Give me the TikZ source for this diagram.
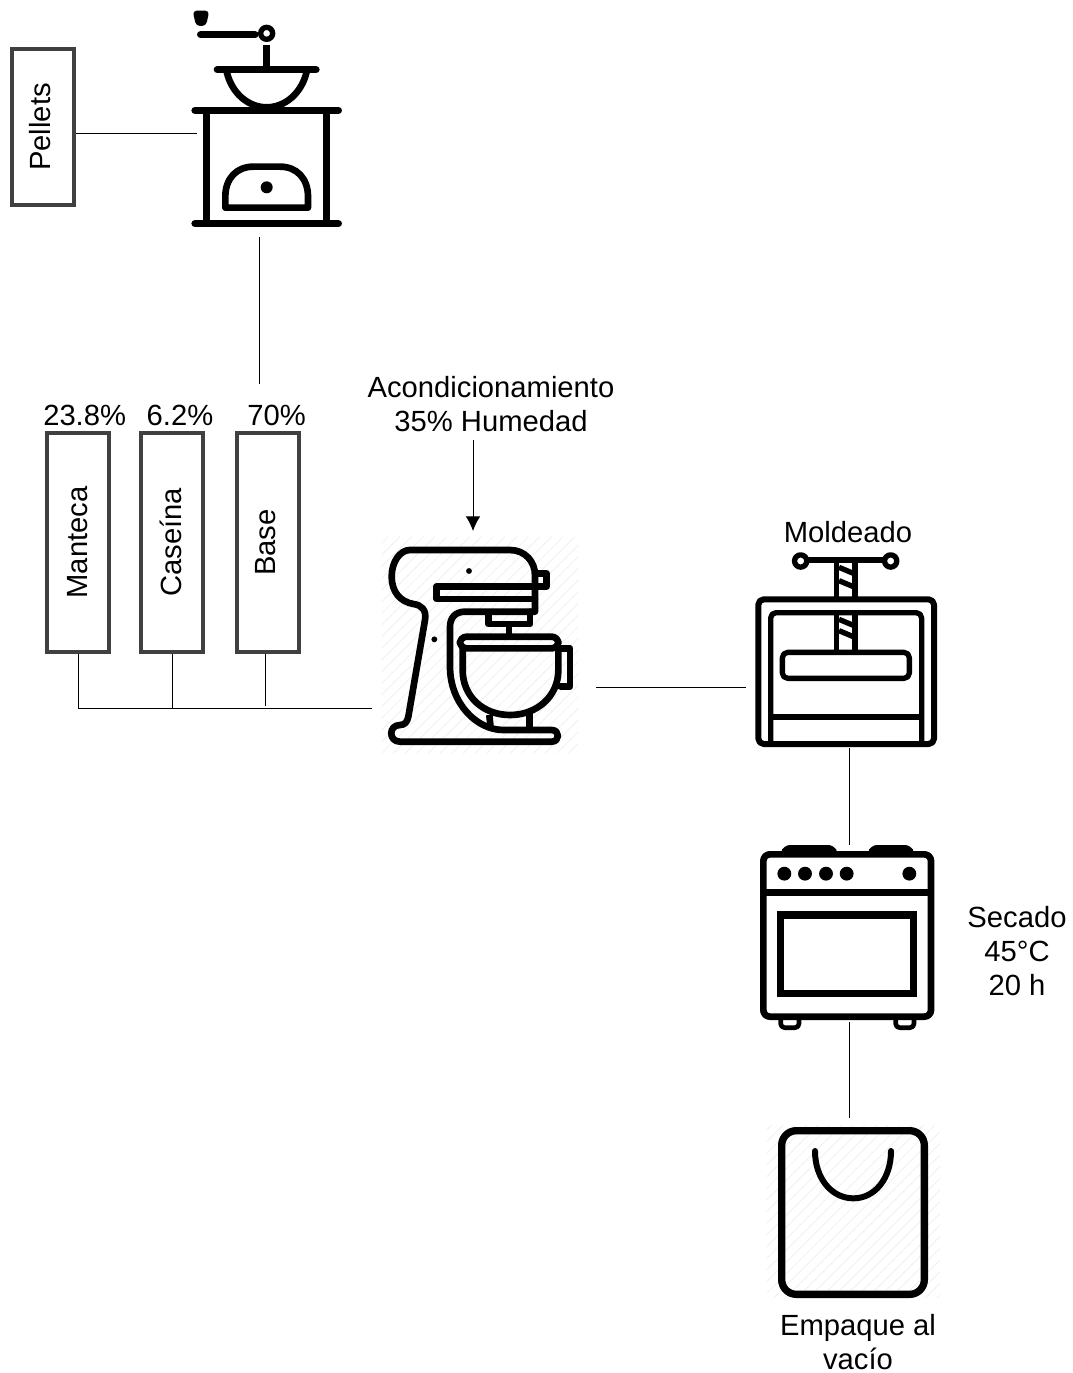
\documentclass[tikz,border=0pt]{standalone}
\usepackage{fontspec}
\setmainfont{Liberation Sans}
\usepackage{tikz}
\usetikzlibrary{arrows.meta}

\begin{document}
\begin{tikzpicture}[x=0.75pt, y=-0.75pt, >={Latex[length=11pt,width=11pt]}, line width=0.75pt,
        font=\fontsize{21.9}{25.5}\selectfont]
        % Estilos
        \tikzstyle{bloque} = [draw=black!75, rectangle, line width=3pt, minimum width=46.5pt]
        \tikzstyle{hueco} = [rectangle, inner sep=0pt, outer sep=0pt]
        \tikzstyle{etiqueta} = [align=center, inner sep=0pt]
        \tikzstyle{icono} = [x=0.25pt, y=-0.25pt, line join=round, line cap=round]
        \tikzstyle{rayado} = [black!7, line width=0.5pt, line cap=butt]

        \useasboundingbox (0,0) rectangle (1073,1373);

        % Nodos
        \node [hueco, minimum width=93pt, minimum height=154.5pt] (molino) at (259,134) {};
        \node [bloque, minimum height=117pt] (pellets) at (43,127) {\hspace{-4pt}\rotatebox{90}{Pellets}};

        \node [bloque, minimum height=164pt] (manteca) at (78,542.5) {\rotatebox{90}{Manteca}};
        \node [bloque, minimum height=164pt, right of=manteca, node distance=70.5pt] (caseina) {\hspace{-2pt}\rotatebox{90}{Caseína}};
        \node [bloque, minimum height=164pt, right of=caseina, node distance=72pt] (base) {\hspace{-3pt}\rotatebox{90}{Base}};
        \node [etiqueta, above of=manteca, node distance=95pt, xshift=5pt] (pctmanteca) {23.8\%};
        \node [etiqueta, above of=caseina, node distance=95pt, xshift=6pt] (pctcaseina) {6.2\%};
        \node [etiqueta, above of=base, node distance=95pt, xshift=6.5pt] (pctbase) {70\%};
        \coordinate (entrada) at (259,384);

        \node [hueco, minimum width=168pt, minimum height=31.5pt] (batidora) at (484,687) {};
        \node [etiqueta] (acond) at (491,404) {Acondicionamiento\\35\% Humedad};
        \coordinate (flecha) at (473,531);

        \node [hueco, right of=batidora, node distance=273.75pt, minimum width=154.5pt, minimum height=91.5pt] (prensa) {};
        \node [hueco, below of=prensa, node distance=184.9pt, minimum width=135pt, minimum height=132.75pt] (horno) {};
        \node [hueco, below of=horno, node distance=209.6pt, minimum width=135pt, minimum height=142.5pt] (bolsa) {};
        \node [etiqueta, above of=prensa, node distance=116pt, xshift=-0.75pt] (moldeado) {Moldeado};
        \node [etiqueta, right of=horno, node distance=126pt, yshift=-13pt] (secado) {Secado\\45°C\\20 h};
        \node [etiqueta, below of=bolsa, node distance=96.5pt, xshift=6.75pt] (empaque) {Empaque al\\vacío};

        % Molino
        \begin{scope}[shift={(0,0)}, icono, line width=5.5pt]
            \fill [rounded corners=3pt] (578,32) -- (628,32) -- (618,78) -- (588,78) -- cycle;
            \draw (602,104) -- (765,104);
            \draw [line width=4pt] (800,100) circle [radius=4.5pt];
            \draw [line cap=butt] (800,135) -- (800,205);
            \draw (652,209) -- (948,209);
            \draw [line width=5pt, line cap=butt] (680,215) .. controls (695,280) and (745,322) .. (800,322)
                .. controls (855,322) and (905,280) .. (920,215);
            \draw (585,331) -- (1015,331);
            \draw (585,671) -- (1015,671);
            \draw [line cap=butt] (620,331) -- (620,671);
            \draw [line cap=butt] (980,331) -- (980,671);
            \draw [line width=5pt] (676,623) -- (676,590) .. controls (676,535) and (710,500) .. (760,500)
                -- (840,500) .. controls (890,500) and (924,535) .. (924,590) -- (924,623) -- cycle;
            \fill (800,562) circle [radius=4.5pt];
        \end{scope}

        % Batidora
        \begin{scope}[shift={(370,530)}, icono, line width=5pt]
            \begin{scope}
                \clip (35,20) rectangle (625,670);
                \foreach \dpos in {-630,-595,...,600} {
                    \draw [rayado] (\dpos,670) -- (\dpos+650,20);
                }
            \end{scope}
            \draw (120,60) -- (420,60) .. controls (465,60) and (495,95) .. (495,135) -- (495,245) -- (285,245)
                .. controls (255,245) and (240,265) .. (240,290) -- (240,410)
                .. controls (240,520) and (320,600) .. (400,600) -- (545,600)
                .. controls (570,600) and (570,635) .. (545,635) -- (90,635)
                .. controls (55,635) and (55,585) .. (90,585) .. controls (105,585) and (112,575) .. (115,560)
                -- (165,270) .. controls (170,240) and (155,225) .. (130,222)
                .. controls (90,215) and (65,185) .. (65,140) .. controls (65,95) and (90,60) .. (120,60) -- cycle;
            \draw (495,170) -- (200,170) -- (200,207) -- (495,207);
            \draw (495,130) -- (530,130) -- (530,170) -- (495,170);
            \draw (355,250) -- (355,282) -- (480,282) -- (480,245);
            \draw [line cap=butt] (417,285) -- (417,318);
            \draw [rounded corners=5pt] (270,355) -- (270,320) -- (565,320) -- (565,355) -- cycle;
            \draw (278,355) -- (278,420) .. controls (278,500) and (340,555) .. (420,555)
                .. controls (500,555) and (565,500) .. (565,420) -- (565,355);
            \draw (572,355) -- (600,355) -- (600,470) -- (572,470);
            \draw [line cap=butt] (358,555) -- (362,595);
            \draw [line cap=butt] (478,548) -- (478,598);
            \fill (297,123) circle [radius=2.2pt];
            \fill (193,328) circle [radius=2.2pt];
        \end{scope}

        % Prensa
        \begin{scope}[shift={(740,540)}, icono, line width=4pt]
            \draw (182,63) circle [radius=4.6pt];
            \draw (452,63) circle [radius=4.6pt];
            \draw [line cap=butt] (205,60) -- (430,60);
            \draw [line cap=butt] (290,65) -- (290,175);
            \draw [line cap=butt] (345,65) -- (345,175);
            \draw [line cap=butt] (290,225) -- (290,335);
            \draw [line cap=butt] (345,225) -- (345,335);
            \foreach \ypos in {82,122,238,272} {
                \draw [line cap=butt] (297,\ypos) -- (340,\ypos+18);
            }
            \draw [line width=4.5pt, rounded corners=4pt] (55,178) rectangle (582,612);
            \draw [rounded corners=4pt] (92,610) -- (92,218) -- (545,218) -- (545,610);
            \draw [rounded corners=4pt] (127,337) rectangle (508,415);
            \draw [line cap=butt] (92,531) -- (545,531);
        \end{scope}

        % Horno
        \begin{scope}[shift={(745,835)}, icono, line width=5pt]
            \fill [rounded corners=5pt] (107,60) -- (115,30) -- (270,30) -- (278,60) -- cycle;
            \fill [rounded corners=5pt] (368,60) -- (376,30) -- (500,30) -- (508,60) -- cycle;
            \draw [rounded corners=5pt] (55,58) rectangle (558,545);
            \draw [line cap=butt, line width=5.5pt] (55,172) -- (558,172);
            \foreach \xpos in {118,180,243,305,493} {
                \fill (\xpos,116) circle [radius=5.2pt];
            }
            \draw [line join=miter, line width=5.5pt] (107,240) rectangle (505,475);
            \draw [line width=3.5pt, rounded corners=3pt] (107,550) -- (107,578) -- (162,578) -- (162,550);
            \draw [line width=3.5pt, rounded corners=3pt] (452,550) -- (452,578) -- (507,578) -- (507,550);
        \end{scope}

        % Bolsa
        \begin{scope}[shift={(760,1115)}, icono, line width=5.5pt]
            \begin{scope}
                \clip (20,30) rectangle (540,550);
                \foreach \dpos in {-520,-485,...,540} {
                    \draw [rayado] (\dpos,550) -- (\dpos+520,30);
                }
            \end{scope}
            \draw [rounded corners=11pt] (65,47) rectangle (493,538);
            \draw [line width=4.5pt] (165,108) .. controls (165,190) and (215,250) .. (280,250)
                .. controls (345,250) and (393,190) .. (393,108);
        \end{scope}

        % Conexiones
        \draw (pellets.east |- molino.west) -- (molino.west);
        \draw (molino.south) -- (entrada);
        \draw (manteca.south) |- (batidora.south west);
        \draw (caseina.south) -- (caseina.south |- batidora.south west);
        \draw ([xshift=-2pt]base.south) -- ([xshift=-2pt,yshift=1.5pt]base.south |- batidora.south west);
        \draw [->] ([yshift=-6pt]flecha |- acond.south) -- (flecha);
        \draw (batidora.east) -- (prensa.west);
        \draw (prensa.south) -- (horno.north);
        \draw (horno.south) -- (bolsa.north);

    \end{tikzpicture}
\end{document}
